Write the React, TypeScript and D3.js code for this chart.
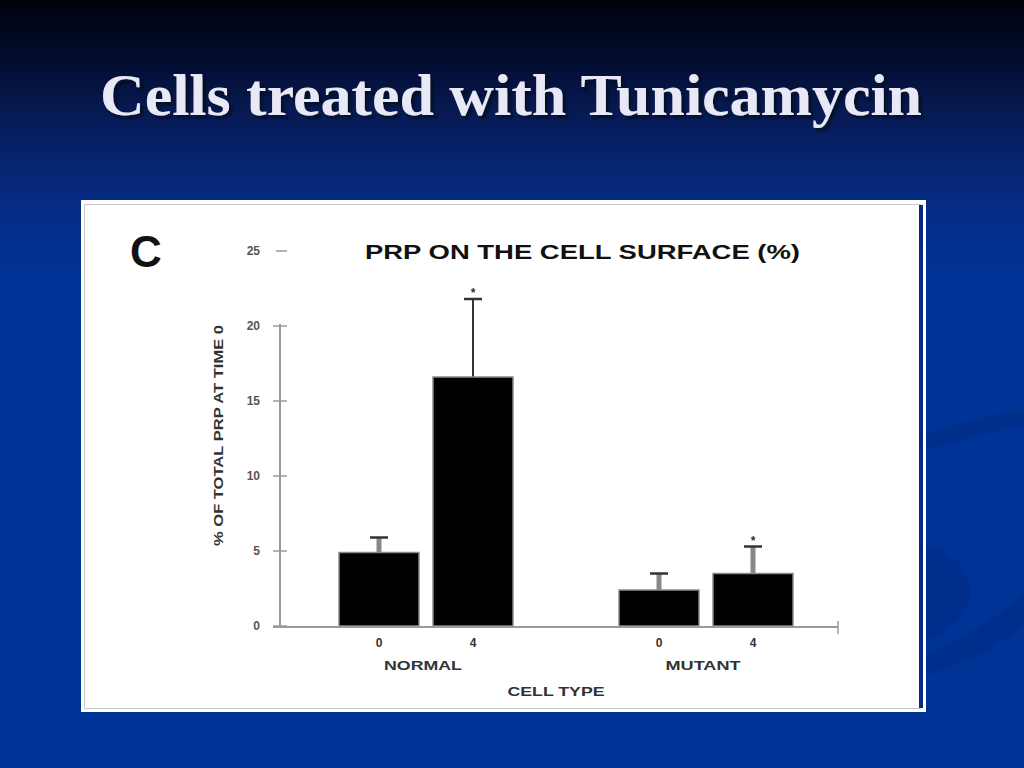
import React from "react";
import * as d3 from "d3";

const groups = ["NORMAL", "MUTANT"];
const times = ["0", "4"];
const values = [
  [4.9, 16.6],
  [2.4, 3.5],
];
const errors = [
  [1.0, 5.2],
  [1.1, 1.8],
];
const significant = [
  [false, true],
  [false, true],
];
const yTicks = [0, 5, 10, 15, 20, 25];

const W = 1024;
const H = 768;

export default function App() {
  const y = d3.scaleLinear().domain([0, 25]).range([626, 251]);
  const xg = d3.scaleBand().domain(groups).range([286, 846]).paddingInner(0).paddingOuter(0);
  const xt = d3.scaleBand().domain(times).range([-87, 87]).paddingInner(0.149).paddingOuter(0);
  const bw = xt.bandwidth();
  const axisX = 280;
  const sans = "'Liberation Sans', Arial, sans-serif";

  const swoosh1 = d3.line().curve(d3.curveBasis)([
    [926, 442], [960, 432], [1000, 422], [1024, 417],
  ]);

  return (
    <svg width={W} height={H} style={{ position: "absolute", left: 0, top: 0 }}>
      <defs>
        <linearGradient id="bg" x1="0" y1="0" x2="0" y2="1">
          <stop offset="0" stopColor="#00020c" />
          <stop offset="0.06" stopColor="#020a26" />
          <stop offset="0.16" stopColor="#071c5a" />
          <stop offset="0.27" stopColor="#062c86" />
          <stop offset="0.36" stopColor="#003396" />
          <stop offset="1" stopColor="#003396" />
        </linearGradient>
        <filter id="shadow" x="-5%" y="-20%" width="110%" height="150%">
          <feDropShadow dx="3" dy="3" stdDeviation="1" floodColor="#000820" floodOpacity="0.85" />
        </filter>
      </defs>
      <rect x={0} y={0} width={W} height={H} fill="url(#bg)" />
      {/* decorative swooshes */}
      <path d={swoosh1 || ""} stroke="#00297f" strokeWidth={16} fill="none" opacity={0.45} />
      <path d="M926,545 Q975,560 970,600 Q960,630 926,640 Z" fill="#00297f" opacity={0.4} />
      <path d="M926,655 Q980,630 1024,595 L1024,625 Q980,660 926,675 Z" fill="#00297f" opacity={0.4} />

      {/* slide title */}
      <text x={100} y={115} fontFamily="'Liberation Serif', 'Times New Roman', serif" fontWeight="bold" fontSize={60} fill="#e8e8f6" textLength={822} lengthAdjust="spacingAndGlyphs" filter="url(#shadow)">
        Cells treated with Tunicamycin
      </text>

      {/* panel */}
      <rect x={81} y={200} width={845} height={512} fill="#ffffff" />
      <rect x={84.5} y={204.5} width={836} height={504} fill="none" stroke="#c8c8d0" strokeWidth={1} />
      <rect x={919} y={205} width={4} height={503} fill="#0a2a80" />

      <text x={130} y={267} fontFamily={sans} fontWeight="bold" fontSize={44} fill="#111">C</text>

      <text x={365} y={259} fontFamily={sans} fontWeight="bold" fontSize={20} fill="#111" textLength={435} lengthAdjust="spacingAndGlyphs">
        PRP ON THE CELL SURFACE (%)
      </text>

      {/* y axis */}
      <line x1={axisX} x2={axisX} y1={y(20) - 2} y2={y(0)} stroke="#9a9a9a" strokeWidth={2} />
      {yTicks.map((t) => (
        <g key={t}>
          <line x1={t === 25 ? 276 : 273} x2={287} y1={y(t)} y2={y(t)} stroke="#9a9a9a" strokeWidth={1.5} />
          <text x={260} y={y(t) + 4} textAnchor="end" fontFamily={sans} fontWeight="bold" fontSize={12} fill="#555">
            {t}
          </text>
        </g>
      ))}
      <text
        transform={`translate(223, ${(325 + 546) / 2}) rotate(-90)`}
        textAnchor="middle"
        fontFamily={sans}
        fontWeight="bold"
        fontSize={13}
        fill="#333"
        textLength={221}
        lengthAdjust="spacingAndGlyphs"
      >
        % OF TOTAL PRP AT TIME 0
      </text>

      {/* bars */}
      {groups.map((g, gi) =>
        times.map((t, ti) => {
          const cx = (xg(g) as number) + xg.bandwidth() / 2 + (xt(t) as number) + bw / 2;
          const v = values[gi][ti];
          const e = errors[gi][ti];
          const top = y(v);
          const etop = y(v + e);
          return (
            <g key={g + t}>
              <line x1={cx} x2={cx} y1={top} y2={etop} stroke={ti === 1 && gi === 0 ? "#333" : "#888"} strokeWidth={gi === 0 && ti === 1 ? 2 : 5} />
              <line x1={cx - 9} x2={cx + 9} y1={etop} y2={etop} stroke="#333" strokeWidth={2.5} />
              <rect x={cx - bw / 2} y={top} width={bw} height={y(0) - top} fill="#000" stroke="#8a8a8a" strokeWidth={1.5} />
              {significant[gi][ti] && (
                <text x={cx} y={etop - 2} textAnchor="middle" fontFamily={sans} fontWeight="bold" fontSize={12} fill="#333">
                  *
                </text>
              )}
              <text x={cx} y={647} textAnchor="middle" fontFamily={sans} fontWeight="bold" fontSize={12} fill="#333">
                {t}
              </text>
            </g>
          );
        })
      )}

      {/* x axis */}
      <line x1={273} x2={838} y1={627} y2={627} stroke="#9a9a9a" strokeWidth={2} />
      <line x1={838} x2={838} y1={621} y2={634} stroke="#9a9a9a" strokeWidth={1.5} />

      {groups.map((g) => (
        <text
          key={g}
          x={(xg(g) as number) + xg.bandwidth() / 2 - 3}
          y={670}
          textAnchor="middle"
          fontFamily={sans}
          fontWeight="bold"
          fontSize={12}
          fill="#333"
          textLength={g === "NORMAL" ? 78 : 75}
          lengthAdjust="spacingAndGlyphs"
        >
          {g}
        </text>
      ))}
      <text x={556} y={696} textAnchor="middle" fontFamily={sans} fontWeight="bold" fontSize={12} fill="#333" textLength={97} lengthAdjust="spacingAndGlyphs">
        CELL TYPE
      </text>
    </svg>
  );
}
